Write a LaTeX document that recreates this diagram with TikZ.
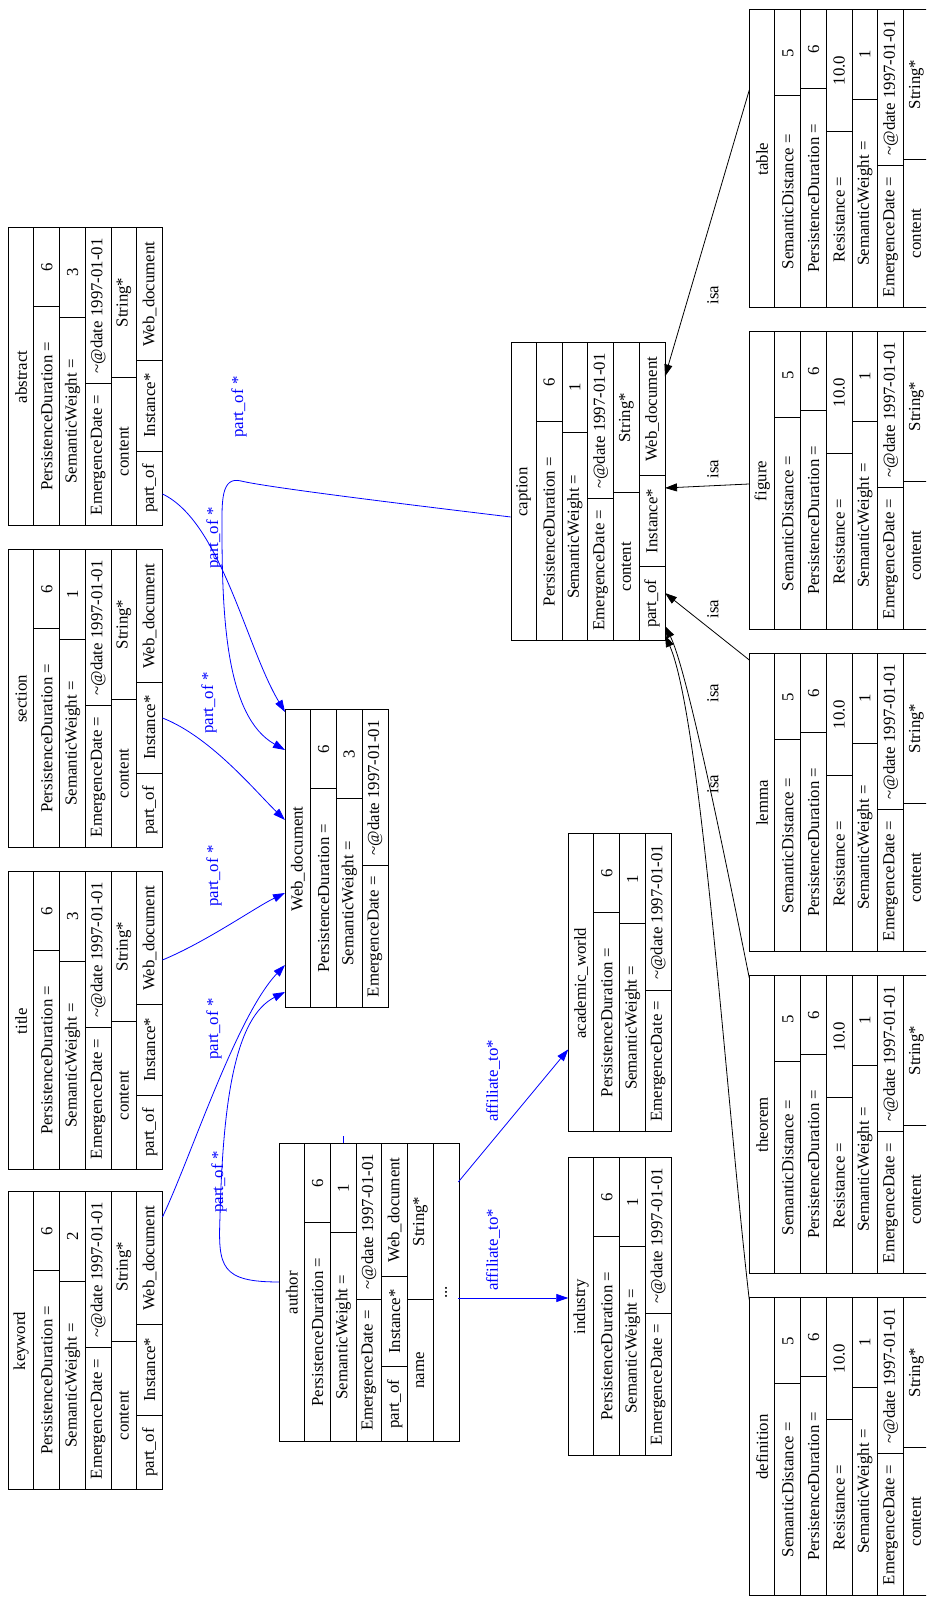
\documentclass[tikz,border=0pt]{standalone}
\usepackage{fontspec}
\setmainfont{Liberation Serif}
\usetikzlibrary{arrows.meta}

\definecolor{gvblue}{HTML}{0000FF}

% record geometry, 1 unit = 1 px of the drawing
\def\rowh{25.7}
\def\recw{298}

\tikzset{
  rec/.style={draw,line width=1pt,inner sep=0pt,minimum width=\recw pt,anchor=north west},
  sep/.style={line width=1pt},
  fld/.style={font=\fontsize{16.8}{18}\selectfont,inner sep=0pt},
  rel/.style={gvblue,line width=0.8pt,-{Triangle[length=12pt,width=8pt]}},
  isarel/.style={black,line width=0.8pt,-{Triangle[length=12pt,width=8pt]}},
  rlab/.style={gvblue,font=\fontsize{16.8}{18}\selectfont,inner sep=1pt},
  ilab/.style={black,font=\fontsize{16.8}{18}\selectfont,inner sep=1pt},
}

% \recnode{name}{left}{top}{rows}
\newcommand{\recnode}[4]{%
  \def\tn{#1}\def\tx{#2}\def\ty{#3}%
  \node[rec,minimum height={#4*\rowh pt}] (#1) at (#2,#3) {};}
% one field: row, text
\newcommand{\fone}[2]{%
  \ifnum#1>0 \draw[sep] (\tx,{\ty-#1*\rowh}) -- ++(\recw,0);\fi
  \node[fld] (\tn-#1) at ({\tx+0.5*\recw},{\ty-(#1+0.5)*\rowh}) {#2};}
% two fields: row, split, left, right
\newcommand{\ftwo}[4]{%
  \draw[sep] (\tx,{\ty-#1*\rowh}) -- ++(\recw,0);
  \draw[sep] ({\tx+#2},{\ty-#1*\rowh}) -- ++(0,-\rowh);
  \node[fld] (\tn-#1a) at ({\tx+0.5*#2},{\ty-(#1+0.5)*\rowh}) {#3};
  \node[fld] (\tn-#1b) at ({\tx+0.5*#2+0.5*\recw},{\ty-(#1+0.5)*\rowh}) {#4};}
% three fields: row, split1, split2, texts
\newcommand{\fthree}[6]{%
  \draw[sep] (\tx,{\ty-#1*\rowh}) -- ++(\recw,0);
  \draw[sep] ({\tx+#2},{\ty-#1*\rowh}) -- ++(0,-\rowh);
  \draw[sep] ({\tx+#3},{\ty-#1*\rowh}) -- ++(0,-\rowh);
  \node[fld] (\tn-#1a) at ({\tx+0.5*#2},{\ty-(#1+0.5)*\rowh}) {#4};
  \node[fld] (\tn-#1b) at ({\tx+0.5*#2+0.5*#3},{\ty-(#1+0.5)*\rowh}) {#5};
  \node[fld] (\tn-#1c) at ({\tx+0.5*#3+0.5*\recw},{\ty-(#1+0.5)*\rowh}) {#6};}

\newcommand{\dated}{\textasciitilde@date 1997-01-01}

% parts of a web document: name, left, weight
\newcommand{\partrec}[3]{%
  \recnode{#1}{#2}{917.7}{6}
  \fone{0}{#1}
  \ftwo{1}{219.3}{PersistenceDuration =}{6}
  \ftwo{2}{208.9}{SemanticWeight =}{#3}
  \ftwo{3}{142.2}{EmergenceDate =}{\dated}
  \ftwo{4}{148.9}{content}{String*}
  \fthree{5}{74.9}{165.5}{part\_of}{Instance*}{Web\_document}}

% kinds of caption: name, left
\newcommand{\kindrec}[2]{%
  \recnode{#1}{#2}{176.7}{7}
  \fone{0}{#1}
  \ftwo{1}{212.3}{SemanticDistance =}{5}
  \ftwo{2}{219.3}{PersistenceDuration =}{6}
  \ftwo{3}{176.9}{Resistance =}{10.0}
  \ftwo{4}{208.9}{SemanticWeight =}{1}
  \ftwo{5}{142.2}{EmergenceDate =}{\dated}
  \ftwo{6}{148.9}{content}{String*}}

\begin{document}
\begin{tikzpicture}[x=1pt,y=1pt,rotate=90,transform shape]
  \useasboundingbox (0,0) rectangle (1597,926);
  \clip (0,0) rectangle (1597,926);

  % --- top row: parts
  \partrec{keyword}{107}{2}
  \partrec{title}{427}{3}
  \partrec{section}{749}{1}
  \partrec{abstract}{1071}{3}

  % --- Web_document
  \recnode{wdoc}{589.1}{641}{4}
  \fone{0}{Web\_document}
  \ftwo{1}{219.3}{PersistenceDuration =}{6}
  \ftwo{2}{208.9}{SemanticWeight =}{3}
  \ftwo{3}{142.2}{EmergenceDate =}{\dated}

  % --- author
  \recnode{author}{155.3}{647}{7}
  \fone{0}{author}
  \ftwo{1}{219.3}{PersistenceDuration =}{6}
  \ftwo{2}{208.9}{SemanticWeight =}{1}
  \ftwo{3}{142.2}{EmergenceDate =}{\dated}
  \fthree{4}{74.9}{165.5}{part\_of}{Instance*}{Web\_document}
  \ftwo{5}{142.4}{name}{String*}
  \fone{6}{...}

  % --- caption
  \recnode{caption}{955.8}{415.3}{6}
  \fone{0}{caption}
  \ftwo{1}{219.3}{PersistenceDuration =}{6}
  \ftwo{2}{208.9}{SemanticWeight =}{1}
  \ftwo{3}{142.2}{EmergenceDate =}{\dated}
  \ftwo{4}{148.9}{content}{String*}
  \fthree{5}{74.9}{165.5}{part\_of}{Instance*}{Web\_document}

  % --- affiliations
  \recnode{industry}{141.2}{357.7}{4}
  \fone{0}{industry}
  \ftwo{1}{219.3}{PersistenceDuration =}{6}
  \ftwo{2}{208.9}{SemanticWeight =}{1}
  \ftwo{3}{142.2}{EmergenceDate =}{\dated}

  \recnode{academic}{464.7}{357.7}{4}
  \fone{0}{academic\_world}
  \ftwo{1}{219.3}{PersistenceDuration =}{6}
  \ftwo{2}{208.9}{SemanticWeight =}{1}
  \ftwo{3}{142.2}{EmergenceDate =}{\dated}

  % --- bottom row: kinds of caption
  \kindrec{definition}{1}
  \kindrec{theorem}{323}
  \kindrec{lemma}{645}
  \kindrec{figure}{967}
  \kindrec{table}{1289}

  % --- ports
  \coordinate (abstract-o) at (1103,763.5);
  \coordinate (section-o)  at (879,763.5);
  \coordinate (title-o)    at (637,763.5);
  \coordinate (keyword-o)  at (380,763.5);
  \coordinate (author-o)   at (315,647);
  \coordinate (caption-o)  at (1080,415.3);
  \coordinate (wdoc-i1) at (885,641);
  \coordinate (wdoc-i2) at (847,641);
  \coordinate (wdoc-i3) at (777,641);
  \coordinate (wdoc-i4) at (704,641);
  \coordinate (wdoc-i5) at (632,641);
  \coordinate (wdoc-i6) at (605,641);
  \coordinate (author-a) at (415,467.7);
  \coordinate (author-b) at (299,467.7);
  \coordinate (author-t1) at (454,583);
  \coordinate (author-t2) at (461,583);
  \coordinate (academic-i) at (547.6,357.7);
  \coordinate (industry-i) at (299,357.7);
  \coordinate (table-o)      at (1507,176.7);
  \coordinate (figure-o)     at (1113,176.7);
  \coordinate (lemma-o)      at (937,176.7);
  \coordinate (theorem-o)    at (619,176.7);
  \coordinate (definition-o) at (297,176.7);
  \coordinate (caption-i1) at (1220.5,261);
  \coordinate (caption-i2) at (1109,261);
  \coordinate (caption-i3) at (1004,261);
  \coordinate (caption-i4) at (971,261);
  \coordinate (caption-i5) at (962,261);

  % --- part_of edges
  \draw[rel] (abstract-o) .. controls (1075,705) and (950,680) .. (wdoc-i1);
  \draw[rel] (caption-o) .. controls (1095,540) and (1110,660) .. (1116,685)
        .. controls (1121,705) and (1095,704) .. (1070,704)
        .. controls (980,704) and (880,700) .. (wdoc-i2);
  \draw[rel] (section-o) .. controls (860,715) and (805,670) .. (wdoc-i3);
  \draw[rel] (title-o) .. controls (655,720) and (690,670) .. (wdoc-i4);
  \draw[rel] (keyword-o) .. controls (440,735) and (580,690) .. (wdoc-i5);
  \draw[rel] (author-o) .. controls (315,705) and (330,708) .. (380,706)
        .. controls (500,703) and (580,690) .. (wdoc-i6);
  \draw[gvblue,line width=0.8pt] (author-t1) -- (author-t2);

  \node[rlab] (lab-caption)  at (1190,687) {part\_of *};
  \node[rlab] (lab-abstract) at (1059,712) {part\_of *};
  \node[rlab] (lab-section)  at (894,717)  {part\_of *};
  \node[rlab] (lab-title)    at (721,712)  {part\_of *};
  \node[rlab] (lab-keyword)  at (568,712)  {part\_of *};
  \node[rlab] (lab-author)   at (415,707)  {part\_of *};

  % --- affiliate_to edges
  \draw[rel] (author-a) -- (academic-i);
  \draw[rel] (author-b) -- (industry-i);
  \node[rlab] (lab-academic) at (516,433) {affiliate\_to*};
  \node[rlab] (lab-industry) at (347,433) {affiliate\_to*};

  % --- isa edges
  \draw[isarel] (table-o) -- (caption-i1);
  \draw[isarel] (figure-o) -- (caption-i2);
  \draw[isarel] (lemma-o) -- (caption-i3);
  \draw[isarel] (theorem-o) .. controls (760,205) and (930,240) .. (caption-i4);
  \draw[isarel] (definition-o) .. controls (500,200) and (880,225) .. (caption-i5);

  \node[ilab] (isa-table)      at (1302,213) {isa};
  \node[ilab] (isa-figure)     at (1128,213) {isa};
  \node[ilab] (isa-lemma)      at (988,213)  {isa};
  \node[ilab] (isa-theorem)    at (904,213)  {isa};
  \node[ilab] (isa-definition) at (813,213)  {isa};
\end{tikzpicture}
\end{document}
